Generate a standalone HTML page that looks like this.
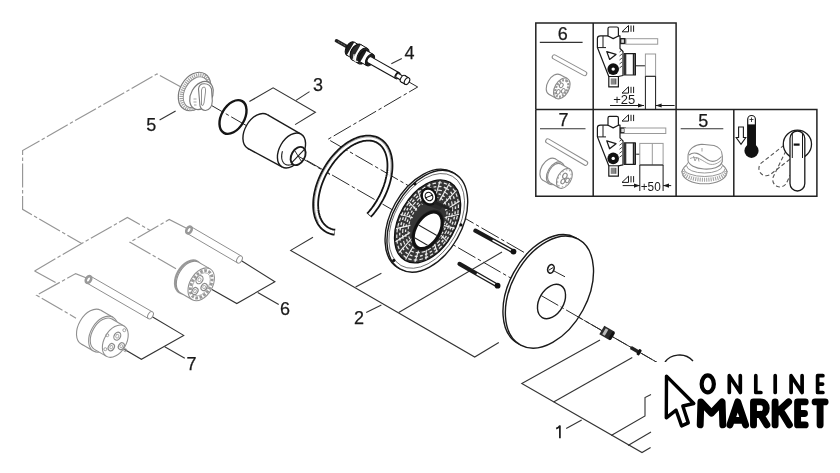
<!DOCTYPE html>
<html><head><meta charset="utf-8"><style>
html,body{margin:0;padding:0;background:#fff;}
body{width:840px;height:473px;overflow:hidden;}
svg{display:block;will-change:transform;}
</style></head><body>
<svg width="840" height="473" viewBox="0 0 840 473">
<rect width="840" height="473" fill="#fff"/>
<path d="M181 87 L157 74 L22.6 150.5 L22.6 209.3 L81.7 243.6" fill="none" stroke="#959595" stroke-width="1.15" stroke-dasharray="24 2.5 3.5 2.5"/>
<path d="M34.6 270.9 L81.7 243.6 L127.4 217.4 L150.2 230.5" fill="none" stroke="#959595" stroke-width="1.15" stroke-dasharray="24 2.5 3.5 2.5"/>
<path d="M34.6 270.9 L57.8 283.7" fill="none" stroke="#959595" stroke-width="1.15" stroke-dasharray="24 2.5 3.5 2.5"/>
<path d="M187 228.5 L169.2 219.4 L130 242.2 L176 268.8" fill="none" stroke="#959595" stroke-width="1.15" stroke-dasharray="24 2.5 3.5 2.5"/>
<path d="M89 279 L75.7 273.6 L36.6 295.2 L76 318.2" fill="none" stroke="#959595" stroke-width="1.15" stroke-dasharray="24 2.5 3.5 2.5"/>
<path d="M206 102.3 L660 364.1" fill="none" stroke="#2a2a2a" stroke-width="1" stroke-dasharray="20 2.8 3.5 2.8"/>
<path d="M409 82 L417.7 87 L328 139.3 L565 276" fill="none" stroke="#2a2a2a" stroke-width="1" stroke-dasharray="20 2.8 3.5 2.8"/>
<path d="M249.4 101.6 L273.1 87.8 L315.4 112.3 L295.1 124.6" fill="none" stroke="#333" stroke-width="1.1"/>
<path d="M296 100.4 L309.5 91.6" fill="none" stroke="#333" stroke-width="1.1"/>
<path d="M313 237.2 L290.7 250.4 L474.7 357 L498.8 342.5" fill="none" stroke="#333" stroke-width="1.1"/>
<path d="M355.6 287.1 L381.4 273.2" fill="none" stroke="#333" stroke-width="1.1"/>
<path d="M398.7 312.5 L502 252" fill="none" stroke="#333" stroke-width="1.1"/>
<path d="M366.2 312.5 L381.4 304.9" fill="none" stroke="#333" stroke-width="1.1"/>
<path d="M600 340 L521.8 383.6 L642 452.5 L650.6 447.5" fill="none" stroke="#333" stroke-width="1.1"/>
<path d="M553.6 401.9 L632.3 357.4" fill="none" stroke="#333" stroke-width="1.1"/>
<path d="M611.2 435.6 L645 416 L645 397.5 L651 394.5" fill="none" stroke="#333" stroke-width="1.1"/>
<path d="M628 445.5 L651 432" fill="none" stroke="#333" stroke-width="1.1"/>
<path d="M566.2 428.6 L581.7 420.1" fill="none" stroke="#333" stroke-width="1.1"/>
<path d="M238.7 259 L274.9 281.8 L236.8 303.5 L212 289.4" fill="none" stroke="#333" stroke-width="1.1"/>
<path d="M257.7 292.5 L278.7 304.6" fill="none" stroke="#333" stroke-width="1.1"/>
<path d="M151 316 L183.7 335.4 L141.4 359.3 L123.4 348.7" fill="none" stroke="#333" stroke-width="1.1"/>
<path d="M164.7 346.8 L184.8 358.2" fill="none" stroke="#333" stroke-width="1.1"/>
<path d="M159.6 120 L175.6 111" fill="none" stroke="#333" stroke-width="1.1"/>
<path d="M391.3 63.8 L401.8 58.5" fill="none" stroke="#333" stroke-width="1.1"/>
<text x="146.35" y="131" font-family="Liberation Sans, sans-serif" font-size="18" fill="#1a1a1a" stroke="#1a1a1a" stroke-width="0.25">5</text>
<text x="312.9" y="90.7" font-family="Liberation Sans, sans-serif" font-size="18" fill="#1a1a1a" stroke="#1a1a1a" stroke-width="0.25">3</text>
<text x="404.6" y="58.95" font-family="Liberation Sans, sans-serif" font-size="18" fill="#1a1a1a" stroke="#1a1a1a" stroke-width="0.25">4</text>
<text x="354.05" y="324" font-family="Liberation Sans, sans-serif" font-size="18" fill="#1a1a1a" stroke="#1a1a1a" stroke-width="0.25">2</text>
<text x="280.05" y="314.75" font-family="Liberation Sans, sans-serif" font-size="18" fill="#1a1a1a" stroke="#1a1a1a" stroke-width="0.25">6</text>
<text x="186.5" y="369.5" font-family="Liberation Sans, sans-serif" font-size="18" fill="#1a1a1a" stroke="#1a1a1a" stroke-width="0.25">7</text>
<path d="M556.2 428.6 Q559 427.5 559.9 425.6 V438.2" fill="none" stroke="#1a1a1a" stroke-width="1.7"/>
<ellipse cx="194.5" cy="91.5" rx="20.5" ry="14.5" transform="rotate(-60 194.5 91.5)" fill="#fff" stroke="#7a7a7a" stroke-width="1.2"/>
<ellipse cx="195.5" cy="92" rx="18.2" ry="12.6" transform="rotate(-60 195.5 92)" fill="none" stroke="#a0a0a0" stroke-width="3.6" stroke-dasharray="1.1 1"/>
<ellipse cx="196" cy="92.3" rx="16.5" ry="11.2" transform="rotate(-60 196 92.3)" fill="none" stroke="#888" stroke-width="0.9"/>
<ellipse cx="201.5" cy="95.5" rx="15" ry="10.5" transform="rotate(-60 201.5 95.5)" fill="#fff" stroke="#7a7a7a" stroke-width="1.2"/>
<path d="M198.5 89 Q199 83.5 204.5 83.8 Q210 84 211.5 89 L212.3 101 Q212 109.5 205.5 110.5 Q201.5 110.5 200 106 Z" fill="#fff" stroke="#7a7a7a" stroke-width="1.1"/>
<path d="M201.5 90 Q202 86.5 204.5 87 Q206 88 205.5 92 L204 103 Q203 107 201.5 105 Z" fill="none" stroke="#888" stroke-width="0.9"/>
<path d="M193.5 99 h3 M193.5 102 h3 M194 105 h2.5" stroke="#999" stroke-width="0.9"/>
<ellipse cx="189" cy="230" rx="3.9" ry="2.42" transform="rotate(-60 189 230)" fill="#fff" stroke="#8f8f8f" stroke-width="1"/>
<path d="M190.95 226.62 L241.45 256.12 L237.55 262.88 L187.05 233.38Z" fill="#fff" stroke="none"/>
<line x1="190.95" y1="226.62" x2="241.45" y2="256.12" stroke="#8f8f8f" stroke-width="1"/>
<line x1="187.05" y1="233.38" x2="237.55" y2="262.88" stroke="#8f8f8f" stroke-width="1"/>
<ellipse cx="239.5" cy="259.5" rx="3.9" ry="2.42" transform="rotate(-60 239.5 259.5)" fill="#fff" stroke="#8f8f8f" stroke-width="1"/>
<ellipse cx="189" cy="230" rx="3.6" ry="2.4" transform="rotate(-60 189 230)" fill="none" stroke="#999" stroke-width="2.6"/>
<ellipse cx="88.5" cy="279.5" rx="3.9" ry="2.42" transform="rotate(-60 88.5 279.5)" fill="#fff" stroke="#8f8f8f" stroke-width="1"/>
<path d="M90.45 276.12 L152.45 311.92 L148.55 318.68 L86.55 282.88Z" fill="#fff" stroke="none"/>
<line x1="90.45" y1="276.12" x2="152.45" y2="311.92" stroke="#8f8f8f" stroke-width="1"/>
<line x1="86.55" y1="282.88" x2="148.55" y2="318.68" stroke="#8f8f8f" stroke-width="1"/>
<ellipse cx="150.5" cy="315.3" rx="3.9" ry="2.42" transform="rotate(-60 150.5 315.3)" fill="#fff" stroke="#8f8f8f" stroke-width="1"/>
<ellipse cx="88.5" cy="279.5" rx="3.6" ry="2.4" transform="rotate(-60 88.5 279.5)" fill="none" stroke="#999" stroke-width="2.6"/>
<ellipse cx="188.21" cy="276.8" rx="17.8" ry="11.3" transform="rotate(-60 188.21 276.8)" fill="#fff" stroke="#999" stroke-width="2.2"/>
<ellipse cx="189.51" cy="277.55" rx="17.8" ry="11.3" transform="rotate(-60 189.51 277.55)" fill="#fff" stroke="#8f8f8f" stroke-width="1.1"/>
<path d="M198.41 262.13 L210.1 268.88 L192.3 299.72 L180.61 292.97Z" fill="#fff" stroke="none"/>
<line x1="198.41" y1="262.13" x2="210.1" y2="268.88" fill="#fff" stroke="#8f8f8f" stroke-width="1.1"/>
<line x1="192.3" y1="299.72" x2="180.61" y2="292.97" fill="#fff" stroke="#8f8f8f" stroke-width="1.1"/>
<ellipse cx="201.2" cy="284.3" rx="17.8" ry="11.3" transform="rotate(-60 201.2 284.3)" fill="#fff" stroke="#8f8f8f" stroke-width="1.1"/>
<ellipse cx="201.2" cy="284.3" rx="14.8" ry="9.2" transform="rotate(-60 201.2 284.3)" fill="none" stroke="#9a9a9a" stroke-width="3" stroke-dasharray="2.6 1.6"/>
<ellipse cx="201.2" cy="284.3" rx="12.6" ry="7.6" transform="rotate(-60 201.2 284.3)" fill="none" stroke="#aaa" stroke-width="0.8"/>
<ellipse cx="199.5" cy="279.7" rx="4.3" ry="3.22" transform="rotate(-60 199.5 279.7)" fill="#fff" stroke="#8a8a8a" stroke-width="1.2"/>
<ellipse cx="199.5" cy="279.7" rx="1.94" ry="1.5" transform="rotate(-60 199.5 279.7)" fill="none" stroke="#aaa" stroke-width="0.9"/>
<ellipse cx="204.1" cy="287" rx="3.7" ry="2.78" transform="rotate(-60 204.1 287)" fill="#fff" stroke="#8a8a8a" stroke-width="1.2"/>
<ellipse cx="204.1" cy="287" rx="1.67" ry="1.29" transform="rotate(-60 204.1 287)" fill="none" stroke="#aaa" stroke-width="0.9"/>
<ellipse cx="195" cy="291.1" rx="3.7" ry="2.78" transform="rotate(-60 195 291.1)" fill="#fff" stroke="#8a8a8a" stroke-width="1.2"/>
<ellipse cx="195" cy="291.1" rx="1.67" ry="1.29" transform="rotate(-60 195 291.1)" fill="none" stroke="#aaa" stroke-width="0.9"/>
<ellipse cx="91.05" cy="327.2" rx="19.5" ry="12.5" transform="rotate(-60 91.05 327.2)" fill="#fff" stroke="#8f8f8f" stroke-width="1.1"/>
<path d="M100.8 310.31 L112.93 317.31 L93.43 351.09 L81.3 344.09Z" fill="#fff" stroke="none"/>
<line x1="100.8" y1="310.31" x2="112.93" y2="317.31" fill="#fff" stroke="#8f8f8f" stroke-width="1.1"/>
<line x1="93.43" y1="351.09" x2="81.3" y2="344.09" fill="#fff" stroke="#8f8f8f" stroke-width="1.1"/>
<ellipse cx="103.18" cy="334.2" rx="19.5" ry="12.5" transform="rotate(-60 103.18 334.2)" fill="#fff" stroke="#8f8f8f" stroke-width="1.1"/>
<ellipse cx="103.18" cy="334.2" rx="17.5" ry="11" transform="rotate(-60 103.18 334.2)" fill="#fff" stroke="#8f8f8f" stroke-width="1.1"/>
<path d="M111.93 319.04 L124.05 326.04 L106.55 356.36 L94.43 349.36Z" fill="#fff" stroke="none"/>
<line x1="111.93" y1="319.04" x2="124.05" y2="326.04" fill="#fff" stroke="#8f8f8f" stroke-width="1.1"/>
<line x1="106.55" y1="356.36" x2="94.43" y2="349.36" fill="#fff" stroke="#8f8f8f" stroke-width="1.1"/>
<ellipse cx="115.3" cy="341.2" rx="17.5" ry="11" transform="rotate(-60 115.3 341.2)" fill="#fff" stroke="#8f8f8f" stroke-width="1.1"/>
<ellipse cx="117.3" cy="336.2" rx="4.2" ry="3.15" transform="rotate(-60 117.3 336.2)" fill="#fff" stroke="#8a8a8a" stroke-width="1.2"/>
<ellipse cx="117.3" cy="336.2" rx="1.89" ry="1.47" transform="rotate(-60 117.3 336.2)" fill="none" stroke="#aaa" stroke-width="0.9"/>
<ellipse cx="111.3" cy="347.2" rx="3.8" ry="2.85" transform="rotate(-60 111.3 347.2)" fill="#fff" stroke="#8a8a8a" stroke-width="1.2"/>
<ellipse cx="111.3" cy="347.2" rx="1.71" ry="1.33" transform="rotate(-60 111.3 347.2)" fill="none" stroke="#aaa" stroke-width="0.9"/>
<ellipse cx="121.3" cy="346.2" rx="3.6" ry="2.7" transform="rotate(-60 121.3 346.2)" fill="#fff" stroke="#8a8a8a" stroke-width="1.2"/>
<ellipse cx="121.3" cy="346.2" rx="1.62" ry="1.26" transform="rotate(-60 121.3 346.2)" fill="none" stroke="#aaa" stroke-width="0.9"/>
<circle cx="107.3" cy="335.2" r="1.5" fill="none" stroke="#999" stroke-width="0.9"/>
<circle cx="124.3" cy="330.2" r="1.5" fill="none" stroke="#999" stroke-width="0.9"/>
<circle cx="105.3" cy="349.2" r="1.5" fill="none" stroke="#999" stroke-width="0.9"/>
<circle cx="125.3" cy="350.2" r="1.5" fill="none" stroke="#999" stroke-width="0.9"/>
<ellipse cx="233" cy="117" rx="18.3" ry="11.5" transform="rotate(-60 233 117)" fill="none" stroke="#151515" stroke-width="2.4"/>
<ellipse cx="257.5" cy="131.5" rx="19.5" ry="12.5" transform="rotate(-60 257.5 131.5)" fill="#fff" stroke="#1a1a1a" stroke-width="1.4"/>
<path d="M267.25 114.61 L301 134.05 L282 166.95 L247.75 148.39Z" fill="#fff" stroke="none"/>
<line x1="267.25" y1="114.61" x2="301" y2="134.05" fill="#fff" stroke="#1a1a1a" stroke-width="1.4"/>
<line x1="282" y1="166.95" x2="247.75" y2="148.39" fill="#fff" stroke="#1a1a1a" stroke-width="1.4"/>
<ellipse cx="291.5" cy="150.5" rx="19" ry="12" transform="rotate(-60 291.5 150.5)" fill="#fff" stroke="#1a1a1a" stroke-width="1.4"/>
<path d="M303.67 148.87 L303.48 149.83 L303.23 150.81 L302.93 151.78 L302.58 152.76 L302.18 153.72 L301.74 154.68 L301.25 155.61 L300.71 156.53 L300.14 157.41 L299.53 158.27 L298.89 159.09 L298.22 159.88 L297.52 160.62 L296.8 161.31 L296.06 161.96 L295.3 162.55 L294.53 163.08 L293.75 163.56 L292.96 163.97 L292.18 164.32 L291.39 164.61 L290.62 164.83 L289.86 164.98 L289.11 165.06 L288.37 165.08 L287.67 165.02 L286.98 164.9 L286.33 164.71 L285.7 164.45 L285.12 164.13 L284.57 163.74 L284.06 163.29 L283.6 162.79 L283.18 162.22 L282.81 161.6 L282.49 160.92 L282.22 160.2 L282 159.44 L281.84 158.63 L281.73 157.79 L281.67 156.91 L281.67 156.01 L281.73 155.08 L281.84 154.14 L282.01 153.17 L282.23 152.2 L282.5 151.23" fill="none" stroke="#1a1a1a" stroke-width="1.1"/>
<ellipse cx="298.1" cy="156" rx="9.8" ry="6.6" transform="rotate(-60 298.1 156)" fill="#fff" stroke="#1a1a1a" stroke-width="1.9"/>
<path d="M291.54 162.85 L304.66 149.15" stroke="#1a1a1a" stroke-width="1.1"/>
<path d="M301.8 162 L294.4 150" stroke="#1a1a1a" stroke-width="0.9"/>
<path d="M298 156 L330 174.5" fill="none" stroke="#2a2a2a" stroke-width="1" stroke-dasharray="20 2.8 3.5 2.8"/>
<line x1="336.5" y1="40.8" x2="352" y2="49.5" stroke="#222" stroke-width="3.6" stroke-linecap="round"/>
<line x1="338" y1="41.6" x2="350" y2="48.4" stroke="#999" stroke-width="0.9" stroke-dasharray="0.8 1"/>
<ellipse cx="350.5" cy="48.7" rx="7.5" ry="4.4" transform="rotate(-60 350.5 48.7)" fill="#1e1e1e" stroke="#111" stroke-width="1"/>
<path d="M354.25 42.2 L359.25 45.1 L351.75 58.1 L346.75 55.2Z" fill="#fff" stroke="none"/>
<line x1="354.25" y1="42.2" x2="359.25" y2="45.1" fill="#1e1e1e" stroke="#111" stroke-width="1"/>
<line x1="351.75" y1="58.1" x2="346.75" y2="55.2" fill="#1e1e1e" stroke="#111" stroke-width="1"/>
<ellipse cx="355.5" cy="51.6" rx="7.5" ry="4.4" transform="rotate(-60 355.5 51.6)" fill="#1e1e1e" stroke="#111" stroke-width="1"/>
<ellipse cx="355.5" cy="51.6" rx="5" ry="2.9" transform="rotate(-60 355.5 51.6)" fill="none" stroke="#999" stroke-width="0.8"/>
<ellipse cx="356.5" cy="52.2" rx="8.8" ry="5.2" transform="rotate(-60 356.5 52.2)" fill="#2a2a2a" stroke="#111" stroke-width="1"/>
<path d="M360.9 44.58 L367.4 48.38 L358.6 63.62 L352.1 59.82Z" fill="#fff" stroke="none"/>
<line x1="360.9" y1="44.58" x2="367.4" y2="48.38" fill="#2a2a2a" stroke="#111" stroke-width="1"/>
<line x1="358.6" y1="63.62" x2="352.1" y2="59.82" fill="#2a2a2a" stroke="#111" stroke-width="1"/>
<ellipse cx="363" cy="56" rx="8.8" ry="5.2" transform="rotate(-60 363 56)" fill="#2a2a2a" stroke="#111" stroke-width="1"/>
<path d="M358.03 61.35 L357.64 61.43 L357.26 61.48 L356.89 61.5 L356.53 61.47 L356.18 61.41 L355.86 61.31 L355.55 61.18 L355.26 61.01 L354.99 60.81 L354.74 60.58 L354.52 60.31 L354.32 60.01 L354.14 59.69 L353.99 59.33 L353.87 58.95 L353.78 58.55 L353.71 58.12 L353.67 57.67 L353.66 57.21 L353.68 56.73 L353.73 56.23 L353.8 55.73 L353.9 55.21 L354.03 54.7 L354.19 54.17" fill="none" stroke="#ddd" stroke-width="1.2"/>
<ellipse cx="363" cy="56" rx="6" ry="3.5" transform="rotate(-60 363 56)" fill="#2a2a2a" stroke="#111" stroke-width="1"/>
<ellipse cx="363" cy="56" rx="3.2" ry="1.9" transform="rotate(-60 363 56)" fill="none" stroke="#888" stroke-width="0.8"/>
<ellipse cx="363.5" cy="56.3" rx="6.5" ry="3.8" transform="rotate(-60 363.5 56.3)" fill="#1e1e1e" stroke="#111" stroke-width="1"/>
<path d="M366.75 50.67 L373.25 54.37 L366.75 65.63 L360.25 61.93Z" fill="#fff" stroke="none"/>
<line x1="366.75" y1="50.67" x2="373.25" y2="54.37" fill="#1e1e1e" stroke="#111" stroke-width="1"/>
<line x1="366.75" y1="65.63" x2="360.25" y2="61.93" fill="#1e1e1e" stroke="#111" stroke-width="1"/>
<ellipse cx="370" cy="60" rx="6.5" ry="3.8" transform="rotate(-60 370 60)" fill="#1e1e1e" stroke="#111" stroke-width="1"/>
<ellipse cx="369.5" cy="59.8" rx="3.4" ry="2.1" transform="rotate(-60 369.5 59.8)" fill="#fff" stroke="#111" stroke-width="1.1"/>
<path d="M371.2 56.86 L399.2 72.66 L395.8 78.54 L367.8 62.74Z" fill="#fff" stroke="none"/>
<line x1="371.2" y1="56.86" x2="399.2" y2="72.66" fill="#fff" stroke="#111" stroke-width="1.1"/>
<line x1="395.8" y1="78.54" x2="367.8" y2="62.74" fill="#fff" stroke="#111" stroke-width="1.1"/>
<ellipse cx="397.5" cy="75.6" rx="3.4" ry="2.1" transform="rotate(-60 397.5 75.6)" fill="#fff" stroke="#111" stroke-width="1.1"/>
<ellipse cx="397.5" cy="75.6" rx="2.3" ry="1.4" transform="rotate(-60 397.5 75.6)" fill="#fff" stroke="#111" stroke-width="1.1"/>
<path d="M398.65 73.61 L404.15 76.81 L401.85 80.79 L396.35 77.59Z" fill="#fff" stroke="none"/>
<line x1="398.65" y1="73.61" x2="404.15" y2="76.81" fill="#fff" stroke="#111" stroke-width="1.1"/>
<line x1="401.85" y1="80.79" x2="396.35" y2="77.59" fill="#fff" stroke="#111" stroke-width="1.1"/>
<ellipse cx="403" cy="78.8" rx="2.3" ry="1.4" transform="rotate(-60 403 78.8)" fill="#fff" stroke="#111" stroke-width="1.1"/>
<ellipse cx="403" cy="78.8" rx="3.7" ry="2.3" transform="rotate(-60 403 78.8)" fill="#fff" stroke="#111" stroke-width="1.1"/>
<path d="M404.85 75.6 L408.85 77.9 L405.15 84.3 L401.15 82Z" fill="#fff" stroke="none"/>
<line x1="404.85" y1="75.6" x2="408.85" y2="77.9" fill="#fff" stroke="#111" stroke-width="1.1"/>
<line x1="405.15" y1="84.3" x2="401.15" y2="82" fill="#fff" stroke="#111" stroke-width="1.1"/>
<ellipse cx="407" cy="81.1" rx="3.7" ry="2.3" transform="rotate(-60 407 81.1)" fill="#fff" stroke="#111" stroke-width="1.1"/>
<path d="M334.92 232.21 L333.7 232.04 L332.5 231.81 L331.33 231.51 L330.19 231.14 L329.08 230.71 L328.01 230.2 L326.97 229.64 L325.97 229.01 L325.01 228.31 L324.09 227.56 L323.22 226.74 L322.38 225.86 L321.59 224.92 L320.84 223.93 L320.14 222.88 L319.49 221.77 L318.89 220.61 L318.33 219.4 L317.83 218.14 L317.38 216.84 L316.97 215.48 L316.62 214.09 L316.33 212.65 L316.08 211.17 L315.89 209.65 L315.75 208.1 L315.67 206.51 L315.64 204.9 L315.66 203.25 L315.74 201.58 L315.87 199.89 L316.05 198.17 L316.29 196.44 L316.58 194.68 L316.92 192.92 L317.32 191.14 L317.76 189.36 L318.26 187.57 L318.81 185.77 L319.41 183.98 L320.05 182.19 L320.74 180.4 L321.48 178.62 L322.27 176.84 L323.1 175.08 L323.97 173.34 L324.88 171.61 L325.84 169.9 L326.83 168.21 L327.86 166.55 L328.93 164.92 L330.03 163.31 L331.17 161.74 L332.33 160.2 L333.53 158.7 L334.75 157.23 L336 155.81 L337.28 154.42 L338.58 153.09 L339.89 151.8 L341.23 150.55 L342.58 149.36 L343.95 148.22 L345.33 147.14 L346.72 146.11 L348.12 145.13 L349.53 144.22 L350.94 143.36 L352.36 142.56 L353.77 141.83 L355.19 141.16 L356.6 140.55 L358 140.01 L359.4 139.53 L360.79 139.12 L362.16 138.78 L363.53 138.5 L364.87 138.29 L366.2 138.15 L367.51 138.08 L368.8 138.07 L370.07 138.14 L371.31 138.27 L372.52 138.47 L373.71 138.74 L374.86 139.07 L375.98 139.47 L377.07 139.94 L378.13 140.48 L379.14 141.08 L380.12 141.74 L381.06 142.47 L381.96 143.25 L382.82 144.1 L383.63 145.01 L384.4 145.98 L385.12 147 L385.8 148.08 L386.42 149.21 L387 150.4 L387.53 151.64 L388.01 152.92 L388.44 154.25 L388.81 155.63 L389.14 157.05 L389.41 158.51 L389.62 160 L389.79 161.54 L389.9 163.11 L389.96 164.71 L389.96 166.34 L389.91 168 L389.8 169.68 L389.65 171.39 L389.43 173.12 L389.17 174.86 L388.85 176.62 L388.48 178.39 L388.06 180.17 L387.59 181.96 L387.06 183.75 L386.49 185.55 L385.87 187.34 L385.2 189.13 L384.48 190.92 L383.72 192.69 L382.91 194.46 L382.06 196.21 L381.17 197.95 L380.23 199.67 L379.26 201.37 L378.24 203.04 L377.19 204.69 L376.11 206.31 L374.99 207.9 L373.84 209.46 L372.66 210.98 L371.45 212.46 L370.21 213.9 L368.95 215.31" fill="none" stroke="#151515" stroke-width="6.8" stroke-linecap="butt"/>
<path d="M334.47 232.16 L333.26 231.97 L332.08 231.71 L330.92 231.39 L329.8 231 L328.71 230.54 L327.66 230.02 L326.64 229.44 L325.66 228.79 L324.71 228.08 L323.81 227.31 L322.95 226.47 L322.14 225.58 L321.36 224.63 L320.63 223.63 L319.95 222.57 L319.32 221.45 L318.73 220.28 L318.19 219.07 L317.7 217.8 L317.27 216.49 L316.88 215.13 L316.54 213.73 L316.26 212.29 L316.03 210.81 L315.85 209.29 L315.73 207.74 L315.65 206.15 L315.64 204.54 L315.67 202.9 L315.76 201.23 L315.9 199.54 L316.09 197.83 L316.34 196.1 L316.64 194.35 L316.99 192.6 L317.39 190.83 L317.85 189.05 L318.35 187.27 L318.9 185.48 L319.5 183.7 L320.15 181.91 L320.85 180.14 L321.59 178.36 L322.38 176.6 L323.21 174.85 L324.08 173.12 L325 171.4 L325.95 169.7 L326.94 168.03 L327.97 166.38 L329.04 164.76 L330.14 163.16 L331.27 161.6 L332.43 160.07 L333.62 158.58 L334.84 157.12 L336.09 155.71 L337.36 154.34 L338.65 153.01 L339.96 151.73 L341.29 150.5 L342.64 149.31 L344 148.18 L345.37 147.1 L346.76 146.08 L348.15 145.11 L349.55 144.2 L350.96 143.35 L352.36 142.56 L353.77 141.83 L355.18 141.16 L356.58 140.56 L357.98 140.02 L359.37 139.54 L360.75 139.13 L362.12 138.78 L363.48 138.51 L364.82 138.3 L366.14 138.15 L367.44 138.08 L368.73 138.07 L369.99 138.13 L371.22 138.26 L372.43 138.45 L373.61 138.71 L374.77 139.04 L375.89 139.44 L376.97 139.9 L378.02 140.42 L379.04 141.01 L380.02 141.66 L380.96 142.38 L381.86 143.16 L382.71 143.99 L383.53 144.89 L384.3 145.84 L385.02 146.85 L385.7 147.92 L386.33 149.04 L386.91 150.21 L387.45 151.43 L387.93 152.7 L388.37 154.02 L388.75 155.38 L389.08 156.78 L389.36 158.23 L389.59 159.71 L389.76 161.23 L389.88 162.79 L389.95 164.37 L389.96 165.99 L389.92 167.63 L389.83 169.3 L389.69 170.99 L389.49 172.71 L389.24 174.44 L388.93 176.18 L388.58 177.94 L388.17 179.71 L387.72 181.49 L387.21 183.27 L386.65 185.06 L386.05 186.84 L385.39 188.63 L384.69 190.4 L383.95 192.17 L383.16 193.93 L382.32 195.68 L381.45 197.42 L380.53 199.13 L379.57 200.83 L378.58 202.5 L377.55 204.15 L376.48 205.77 L375.38 207.36 L374.24 208.92 L373.08 210.45 L371.88 211.94 L370.66 213.39 L369.41 214.8" fill="none" stroke="#fff" stroke-width="3.2"/>
<path d="M318.55 222.5 L317.91 221.29 L317.33 220.03 L316.8 218.72 L316.32 217.36 L315.89 215.95 L315.52 214.5 L315.21 213.01 L314.95 211.47 L314.74 209.89 L314.6 208.28 L314.5 206.63 L314.47 204.96 L314.49 203.25 L314.57 201.51 L314.7 199.76 L314.89 197.98 L315.14 196.18 L315.44 194.36 L315.8 192.54 L316.21 190.7 L316.67 188.85 L317.19 187 L317.76 185.15 L318.38 183.29 L319.06 181.44 L319.78 179.59 L320.55 177.75 L321.37 175.93 L322.24 174.11 L323.15 172.32 L324.1 170.54 L325.1 168.78 L326.14 167.05 L327.21 165.34 L328.33 163.67 L329.48 162.02 L330.66 160.41 L331.88 158.84 L333.13 157.31 L334.41 155.81 L335.71 154.36 L337.04 152.96 L338.39 151.6 L339.77 150.29 L341.16 149.03 L342.57 147.83 L344 146.68 L345.44 145.59 L346.89 144.56 L348.34 143.59 L349.81 142.67 L351.28 141.83 L352.75 141.04 L354.22 140.32 L355.69 139.67 L357.15 139.08 L358.61 138.56 L360.06 138.11 L361.5 137.73 L362.93 137.42 L364.34 137.18 L365.74 137.01 L367.11 136.91 L368.47 136.89 L369.8 136.93 L371.1 137.05 L372.38 137.23 L373.63 137.49 L374.85 137.82 L376.04 138.21 L377.19 138.68 L378.31 139.22 L379.39 139.82 L380.43 140.49 L381.43 141.22 L382.39 142.02 L383.3 142.89 L384.17 143.81 L384.99 144.8 L385.77 145.85 L386.49 146.95 L387.17 148.12 L387.8 149.33 L388.37 150.6 L388.89 151.92 L389.36 153.29 L389.78 154.71 L390.14 156.17 L390.44 157.67 L390.69 159.22 L390.89 160.8 L391.02 162.42 L391.11 164.07 L391.13 165.75 L391.1 167.47 L391.01 169.2 L390.87 170.97 L390.67 172.75 L390.41 174.55 L390.1 176.37" fill="none" stroke="#555" stroke-width="0.6"/>
<ellipse cx="425.42" cy="220.15" rx="55" ry="34.5" transform="rotate(-60.7 425.42 220.15)" fill="#fff" stroke="#1a1a1a" stroke-width="1.4"/>
<ellipse cx="427.33" cy="221.25" rx="55" ry="34.5" transform="rotate(-60.7 427.33 221.25)" fill="#fff" stroke="#1a1a1a" stroke-width="1.4"/>
<ellipse cx="427.59" cy="221.4" rx="45" ry="28" transform="rotate(-60 427.59 221.4)" fill="#363636" stroke="#111" stroke-width="1.3"/>
<ellipse cx="426.72" cy="220.9" rx="51.5" ry="32" transform="rotate(-60 426.72 220.9)" fill="none" stroke="#444" stroke-width="0.7"/>
<ellipse cx="427.59" cy="221.4" rx="42" ry="26.04" transform="rotate(-60 427.59 221.4)" fill="none" stroke="#e6e6e6" stroke-width="1.2" stroke-dasharray="3.5 2.2"/>
<ellipse cx="427.59" cy="221.4" rx="38" ry="23.56" transform="rotate(-60 427.59 221.4)" fill="none" stroke="#e6e6e6" stroke-width="1.4" stroke-dasharray="2.8 2.4"/>
<ellipse cx="427.59" cy="221.4" rx="34" ry="21.08" transform="rotate(-60 427.59 221.4)" fill="none" stroke="#e6e6e6" stroke-width="1.2" stroke-dasharray="4 2"/>
<ellipse cx="427.59" cy="221.4" rx="30" ry="18.6" transform="rotate(-60 427.59 221.4)" fill="none" stroke="#e6e6e6" stroke-width="1.3" stroke-dasharray="2.5 2.5"/>
<ellipse cx="427.59" cy="221.4" rx="26.5" ry="16.43" transform="rotate(-60 427.59 221.4)" fill="none" stroke="#e6e6e6" stroke-width="1.1" stroke-dasharray="3 2"/>
<line x1="449.59" y1="183.29" x2="439.59" y2="200.62" stroke="#f0f0f0" stroke-width="1.1"/>
<line x1="456.35" y1="190.26" x2="443.28" y2="204.42" stroke="#f0f0f0" stroke-width="1.1"/>
<line x1="459.64" y1="200.98" x2="445.08" y2="210.27" stroke="#f0f0f0" stroke-width="1.1"/>
<line x1="459.06" y1="214.17" x2="444.76" y2="217.46" stroke="#f0f0f0" stroke-width="1.1"/>
<line x1="454.69" y1="228.23" x2="442.38" y2="225.13" stroke="#f0f0f0" stroke-width="1.1"/>
<line x1="447.05" y1="241.46" x2="438.21" y2="232.35" stroke="#f0f0f0" stroke-width="1.1"/>
<line x1="437.06" y1="252.27" x2="432.76" y2="238.24" stroke="#f0f0f0" stroke-width="1.1"/>
<line x1="425.93" y1="259.36" x2="426.69" y2="242.11" stroke="#f0f0f0" stroke-width="1.1"/>
<line x1="415" y1="261.88" x2="420.73" y2="243.48" stroke="#f0f0f0" stroke-width="1.1"/>
<line x1="405.59" y1="259.51" x2="415.59" y2="242.18" stroke="#f0f0f0" stroke-width="1.1"/>
<line x1="398.83" y1="252.54" x2="411.9" y2="238.38" stroke="#f0f0f0" stroke-width="1.1"/>
<line x1="395.54" y1="241.82" x2="410.1" y2="232.53" stroke="#f0f0f0" stroke-width="1.1"/>
<line x1="396.11" y1="228.63" x2="410.41" y2="225.34" stroke="#f0f0f0" stroke-width="1.1"/>
<line x1="400.49" y1="214.57" x2="412.8" y2="217.67" stroke="#f0f0f0" stroke-width="1.1"/>
<line x1="408.13" y1="201.34" x2="416.97" y2="210.45" stroke="#f0f0f0" stroke-width="1.1"/>
<line x1="418.11" y1="190.53" x2="422.41" y2="204.56" stroke="#f0f0f0" stroke-width="1.1"/>
<line x1="429.25" y1="183.44" x2="428.49" y2="200.69" stroke="#f0f0f0" stroke-width="1.1"/>
<line x1="440.18" y1="180.92" x2="434.45" y2="199.32" stroke="#f0f0f0" stroke-width="1.1"/>
<ellipse cx="427.7" cy="230.3" rx="22.5" ry="13.8" transform="rotate(-60 427.7 230.3)" fill="#222" stroke="none"/>
<ellipse cx="427.7" cy="230.3" rx="19.8" ry="11.9" transform="rotate(-60 427.7 230.3)" fill="#fff" stroke="#111" stroke-width="2.8"/>
<clipPath id="hole2"><ellipse cx="427.7" cy="230.3" rx="18.3" ry="10.5" transform="rotate(-60 427.7 230.3)"/></clipPath>
<g clip-path="url(#hole2)"><path d="M400 214.2 L460 248.8" fill="none" stroke="#222" stroke-width="1.1"/><path d="M400 229.4 L460 264" fill="none" stroke="#222" stroke-width="1.1"/></g>
<path d="M420 203 L440 210 L444 205 L424 196Z" fill="#2a2a2a"/>
<ellipse cx="429" cy="196.5" rx="7" ry="8.3" transform="rotate(-30 429 196.5)" fill="#fff" stroke="#111" stroke-width="2.4"/>
<ellipse cx="429" cy="196.5" rx="3.6" ry="4.4" transform="rotate(-30 429 196.5)" fill="#fff" stroke="#111" stroke-width="1.2"/>
<line x1="425.4" y1="197.9" x2="432.6" y2="195.1" stroke="#111" stroke-width="1"/>
<line x1="434" y1="202" x2="452" y2="210" stroke="#222" stroke-width="3"/>
<circle cx="460.95" cy="224.97" r="1.6" fill="#111"/>
<circle cx="393.8" cy="260.45" r="1.6" fill="#111"/>
<circle cx="414.93" cy="183.78" r="1.6" fill="#111"/>
<line x1="475.4" y1="230.7" x2="513.5" y2="251.6" stroke="#1a1a1a" stroke-width="4.2" stroke-linecap="round"/>
<line x1="492.54" y1="240.1" x2="511.21" y2="250.35" stroke="#fff" stroke-width="1.6"/>
<circle cx="513.5" cy="251.6" r="2.9" fill="#111"/>
<line x1="459.5" y1="263.9" x2="497.6" y2="285.7" stroke="#1a1a1a" stroke-width="4.2" stroke-linecap="round"/>
<line x1="476.64" y1="273.71" x2="495.31" y2="284.39" stroke="#fff" stroke-width="1.6"/>
<circle cx="497.6" cy="285.7" r="2.9" fill="#111"/>
<ellipse cx="547.03" cy="290.75" rx="60.3" ry="38" transform="rotate(-61.5 547.03 290.75)" fill="#fff" stroke="#1a1a1a" stroke-width="1.4"/>
<ellipse cx="549.45" cy="292.15" rx="60.3" ry="38" transform="rotate(-61.5 549.45 292.15)" fill="#fff" stroke="#1a1a1a" stroke-width="1.4"/>
<ellipse cx="551.5" cy="301.5" rx="18.5" ry="12.2" transform="rotate(-60 551.5 301.5)" fill="#fff" stroke="#1a1a1a" stroke-width="1.4"/>
<ellipse cx="550.9" cy="268.9" rx="4.4" ry="3.1" transform="rotate(-70 550.9 268.9)" fill="#fff" stroke="#1a1a1a" stroke-width="1.6"/>
<line x1="548.6" y1="270.3" x2="553.2" y2="267.5" stroke="#1a1a1a" stroke-width="1"/>
<path d="M540.9 295.4 L660 364.1" fill="none" stroke="#2a2a2a" stroke-width="1" stroke-dasharray="20 2.8 3.5 2.8"/>
<path d="M554 271 L565 276.8" fill="none" stroke="#2a2a2a" stroke-width="1" stroke-dasharray="20 2.8 3.5 2.8"/>
<g transform="translate(607,333) rotate(30)"><rect x="-6" y="-5" width="12" height="10" fill="#2a2a2a"/><rect x="-3.5" y="-3.5" width="3" height="7" fill="#bbb"/><rect x="4" y="-4.5" width="3" height="9" rx="1.2" fill="#111"/></g>
<g transform="translate(636,350.5) rotate(30)"><rect x="-6" y="-1.8" width="9" height="3.6" fill="#222"/><rect x="2" y="-3.2" width="3.2" height="6.4" rx="1.2" fill="#111"/></g>
<path d="M665 362 C670 355 684 351 693 361" fill="none" stroke="#1a1a1a" stroke-width="1.4"/>
<path d="M535.8 109.6 L535.8 23.1 L676.1 23.1 L676.1 109.6" fill="none" stroke="#222" stroke-width="1.5"/>
<path d="M535.8 109.6 L816.9 109.6 L816.9 196.3 L535.8 196.3 L535.8 109.6" fill="none" stroke="#222" stroke-width="1.5"/>
<line x1="593.2" y1="23.1" x2="593.2" y2="196.3" fill="none" stroke="#222" stroke-width="1.5"/>
<line x1="676.1" y1="109.6" x2="676.1" y2="196.3" fill="none" stroke="#222" stroke-width="1.5"/>
<line x1="733.8" y1="109.6" x2="733.8" y2="196.3" fill="none" stroke="#222" stroke-width="1.5"/>
<text x="557.75" y="40.05" font-family="Liberation Sans, sans-serif" font-size="18" fill="#1a1a1a" stroke="#1a1a1a" stroke-width="0.25">6</text>
<text x="558.45" y="126.4" font-family="Liberation Sans, sans-serif" font-size="18" fill="#1a1a1a" stroke="#1a1a1a" stroke-width="0.25">7</text>
<text x="698.2" y="126.95" font-family="Liberation Sans, sans-serif" font-size="18" fill="#1a1a1a" stroke="#1a1a1a" stroke-width="0.25">5</text>
<line x1="539.8" y1="42.4" x2="582.6" y2="42.4" stroke="#333" stroke-width="1.1"/>
<line x1="540" y1="128.8" x2="585.5" y2="128.8" stroke="#333" stroke-width="1.1"/>
<line x1="680.7" y1="128.8" x2="723.3" y2="128.8" stroke="#333" stroke-width="1.1"/>
<line x1="554.4" y1="57" x2="584.6" y2="73.5" stroke="#8e8e8e" stroke-width="5.4" stroke-linecap="round"/>
<line x1="554.4" y1="57" x2="584.6" y2="73.5" stroke="#fff" stroke-width="3.2" stroke-linecap="round"/>
<line x1="547.8" y1="141" x2="585.5" y2="163.2" stroke="#8e8e8e" stroke-width="5.4" stroke-linecap="round"/>
<line x1="547.8" y1="141" x2="585.5" y2="163.2" stroke="#fff" stroke-width="3.2" stroke-linecap="round"/>
<ellipse cx="554.5" cy="84.5" rx="11.3" ry="7" transform="rotate(-60 554.5 84.5)" fill="#fff" stroke="#8a8a8a" stroke-width="1.1"/>
<path d="M560.15 74.71 L567.45 78.61 L556.15 98.19 L548.85 94.29Z" fill="#fff" stroke="none"/>
<line x1="560.15" y1="74.71" x2="567.45" y2="78.61" fill="#fff" stroke="#8a8a8a" stroke-width="1.1"/>
<line x1="556.15" y1="98.19" x2="548.85" y2="94.29" fill="#fff" stroke="#8a8a8a" stroke-width="1.1"/>
<ellipse cx="561.8" cy="88.4" rx="11.3" ry="7" transform="rotate(-60 561.8 88.4)" fill="#fff" stroke="#8a8a8a" stroke-width="1.1"/>
<ellipse cx="561.8" cy="88.4" rx="9" ry="5.6" transform="rotate(-60 561.8 88.4)" fill="none" stroke="#999" stroke-width="2.4" stroke-dasharray="2 1.2"/>
<ellipse cx="561.3" cy="85.4" rx="2.4" ry="1.7" transform="rotate(-60 561.3 85.4)" fill="#fff" stroke="#888" stroke-width="1"/>
<ellipse cx="563.3" cy="90.9" rx="2.4" ry="1.7" transform="rotate(-60 563.3 90.9)" fill="#fff" stroke="#888" stroke-width="1"/>
<ellipse cx="558.3" cy="91.9" rx="2.4" ry="1.7" transform="rotate(-60 558.3 91.9)" fill="#fff" stroke="#888" stroke-width="1"/>
<ellipse cx="549" cy="169.5" rx="12.3" ry="7.8" transform="rotate(-60 549 169.5)" fill="#fff" stroke="#8a8a8a" stroke-width="1.1"/>
<path d="M555.15 158.85 L561.65 162.65 L549.35 183.95 L542.85 180.15Z" fill="#fff" stroke="none"/>
<line x1="555.15" y1="158.85" x2="561.65" y2="162.65" fill="#fff" stroke="#8a8a8a" stroke-width="1.1"/>
<line x1="549.35" y1="183.95" x2="542.85" y2="180.15" fill="#fff" stroke="#8a8a8a" stroke-width="1.1"/>
<ellipse cx="555.5" cy="173.3" rx="12.3" ry="7.8" transform="rotate(-60 555.5 173.3)" fill="#fff" stroke="#8a8a8a" stroke-width="1.1"/>
<ellipse cx="555.5" cy="173.3" rx="10.8" ry="6.7" transform="rotate(-60 555.5 173.3)" fill="#fff" stroke="#8a8a8a" stroke-width="1.1"/>
<path d="M560.9 163.95 L569.8 169.05 L559 187.75 L550.1 182.65Z" fill="#fff" stroke="none"/>
<line x1="560.9" y1="163.95" x2="569.8" y2="169.05" fill="#fff" stroke="#8a8a8a" stroke-width="1.1"/>
<line x1="559" y1="187.75" x2="550.1" y2="182.65" fill="#fff" stroke="#8a8a8a" stroke-width="1.1"/>
<ellipse cx="564.4" cy="178.4" rx="10.8" ry="6.7" transform="rotate(-60 564.4 178.4)" fill="#fff" stroke="#8a8a8a" stroke-width="1.1"/>
<ellipse cx="564.9" cy="175.9" rx="2.8" ry="2.02" transform="rotate(-60 564.9 175.9)" fill="#fff" stroke="#888" stroke-width="1.1"/>
<ellipse cx="562.9" cy="181.4" rx="2.5" ry="1.8" transform="rotate(-60 562.9 181.4)" fill="#fff" stroke="#888" stroke-width="1.1"/>
<ellipse cx="567.4" cy="180.4" rx="2.4" ry="1.73" transform="rotate(-60 567.4 180.4)" fill="#fff" stroke="#888" stroke-width="1.1"/>
<ellipse cx="564.4" cy="178.4" rx="9.3" ry="5.7" transform="rotate(-60 564.4 178.4)" fill="none" stroke="#aaa" stroke-width="1.2" stroke-dasharray="1.5 2.5"/>
<ellipse cx="704.5" cy="172.2" rx="22.4" ry="11.6" fill="#fff" stroke="#8a8a8a" stroke-width="1.1"/>
<path d="M683 171 A21.5 8.8 0 0 0 726 171" fill="none" stroke="#a5a5a5" stroke-width="4" stroke-dasharray="1.1 1.1"/>
<path d="M684 168.5 A20.5 8 0 0 0 725 168.5" fill="none" stroke="#8a8a8a" stroke-width="0.9"/>
<ellipse cx="704.5" cy="165.5" rx="18" ry="7.5" fill="#fff" stroke="#999" stroke-width="1"/>
<path d="M688 156.5 C688 149 695 144.5 702 144.3 L714 145.5 C719 146.8 722.3 151 722.3 156 L722.3 161.5 C720.5 167.5 712 169.5 704 169 C695.5 168.3 688.5 165 688 160.5 Z" fill="#fff" stroke="#8a8a8a" stroke-width="1.1"/>
<path d="M689 155 C696 149.5 702 156.5 708 160 C713 162.8 718 160.5 721.5 156.5" fill="none" stroke="#8a8a8a" stroke-width="1.1"/>
<path d="M690 158.5 C697 155 703 161.5 709 164 C714 165.5 718.5 163 721.5 160" fill="none" stroke="#999" stroke-width="0.9"/>
<path d="M693.5 156 L695 161 L697 157 M698 157.5 L699 161.5" fill="none" stroke="#999" stroke-width="0.9"/>
<path d="M702 148 V151.5" stroke="#999" stroke-width="0.9"/>
<g transform="translate(0 0)">
<path d="M600.5 35.8 H620 V48.5 L623 51.5 V75.5 L618.4 76.5 V86.9 H608.8 V76.5 L597.4 47.5 V38.5 Q597.4 35.8 600.5 35.8Z" fill="#fff" stroke="#1a1a1a" stroke-width="1.2" stroke-linejoin="round"/>
<path d="M603 36 V47.6 M597.6 47.6 H606 M608.8 76.5 H618.4" fill="none" stroke="#1a1a1a" stroke-width="1"/>
<path d="M608 36 V28.6 Q608 27 609.6 27 H616.8 Q618.4 27 618.4 28.6 V36 L613.2 38.6 Z" fill="#fff" stroke="#1a1a1a" stroke-width="1.2" stroke-linejoin="round"/>
<rect x="620" y="38" width="5.8" height="6.2" fill="#222"/><rect x="621.3" y="39.4" width="2.6" height="3.4" fill="#ddd"/>
<path d="M619.5 52 L622 50 M619.5 56 L622 54 M619.5 60 L622 58 M619.5 64 L622 62 M619.5 68 L622 66" stroke="#333" stroke-width="0.9"/>
<rect x="624.3" y="53.6" width="11.1" height="21.4" fill="#fff" stroke="#1a1a1a" stroke-width="1.2" stroke-linejoin="round"/>
<rect x="624.3" y="53.6" width="2" height="21.4" fill="#333"/>
<rect x="632.8" y="53.6" width="1.8" height="21.4" fill="#222"/>
<path d="M606.8 51.6 L616 54.4 L609.6 59.4 Z" fill="#fff" stroke="#1a1a1a" stroke-width="1.3" stroke-linejoin="round"/>
<circle cx="613.2" cy="69.1" r="5.8" fill="#111"/><circle cx="613.2" cy="69.1" r="1.7" fill="#fff"/>
<rect x="610.8" y="78.5" width="5.6" height="6" fill="#666"/>
<path d="M612 78.5 V84.5 M614 78.5 V84.5" stroke="#ccc" stroke-width="0.7"/>
<path d="M622 31.8 L628.5 25.5 V31.8 Z" fill="none" stroke="#1a1a1a" stroke-width="1"/>
<path d="M631 25.5 V31.8 M633.6 25.5 V31.8" stroke="#1a1a1a" stroke-width="1"/>
<path d="M622 93.1 L628.5 86.8 V93.1 Z" fill="none" stroke="#1a1a1a" stroke-width="1"/>
<path d="M631 86.8 V93.1 M633.6 86.8 V93.1" stroke="#1a1a1a" stroke-width="1"/>
</g>
<rect x="626" y="38.7" width="31.7" height="5.5" fill="#fff" stroke="#999" stroke-width="1"/>
<line x1="635.5" y1="65.8" x2="645.4" y2="65.8" stroke="#1a1a1a" stroke-width="1"/>
<rect x="645.4" y="54" width="10.2" height="22.3" fill="#fff" stroke="#999" stroke-width="1"/>
<path d="M645.4 109 L645.4 76.3 L655.6 76.3 L655.6 109" fill="none" stroke="#1a1a1a" stroke-width="1"/>
<line x1="610" y1="105.5" x2="644" y2="105.5" stroke="#1a1a1a" stroke-width="1"/>
<path d="M644 105.5 L638 103.4 L638 107.6Z" fill="#1a1a1a"/>
<line x1="655.6" y1="105.5" x2="674.6" y2="105.5" stroke="#1a1a1a" stroke-width="1"/>
<path d="M655.6 105.5 L661.6 103.4 L661.6 107.6Z" fill="#1a1a1a"/>
<text x="613.3" y="103.8" font-family="Liberation Sans, sans-serif" font-size="12" textLength="22" lengthAdjust="spacingAndGlyphs" fill="#1a1a1a">+25</text>
<g transform="translate(0 89.3)">
<path d="M600.5 35.8 H620 V48.5 L623 51.5 V75.5 L618.4 76.5 V86.9 H608.8 V76.5 L597.4 47.5 V38.5 Q597.4 35.8 600.5 35.8Z" fill="#fff" stroke="#1a1a1a" stroke-width="1.2" stroke-linejoin="round"/>
<path d="M603 36 V47.6 M597.6 47.6 H606 M608.8 76.5 H618.4" fill="none" stroke="#1a1a1a" stroke-width="1"/>
<path d="M608 36 V28.6 Q608 27 609.6 27 H616.8 Q618.4 27 618.4 28.6 V36 L613.2 38.6 Z" fill="#fff" stroke="#1a1a1a" stroke-width="1.2" stroke-linejoin="round"/>
<rect x="620" y="38" width="5.8" height="6.2" fill="#222"/><rect x="621.3" y="39.4" width="2.6" height="3.4" fill="#ddd"/>
<path d="M619.5 52 L622 50 M619.5 56 L622 54 M619.5 60 L622 58 M619.5 64 L622 62 M619.5 68 L622 66" stroke="#333" stroke-width="0.9"/>
<rect x="624.3" y="53.6" width="11.1" height="21.4" fill="#fff" stroke="#1a1a1a" stroke-width="1.2" stroke-linejoin="round"/>
<rect x="624.3" y="53.6" width="2" height="21.4" fill="#333"/>
<rect x="632.8" y="53.6" width="1.8" height="21.4" fill="#222"/>
<path d="M606.8 51.6 L616 54.4 L609.6 59.4 Z" fill="#fff" stroke="#1a1a1a" stroke-width="1.3" stroke-linejoin="round"/>
<circle cx="613.2" cy="69.1" r="5.8" fill="#111"/><circle cx="613.2" cy="69.1" r="1.7" fill="#fff"/>
<rect x="610.8" y="78.5" width="5.6" height="6" fill="#666"/>
<path d="M612 78.5 V84.5 M614 78.5 V84.5" stroke="#ccc" stroke-width="0.7"/>
<path d="M622 31.8 L628.5 25.5 V31.8 Z" fill="none" stroke="#1a1a1a" stroke-width="1"/>
<path d="M631 25.5 V31.8 M633.6 25.5 V31.8" stroke="#1a1a1a" stroke-width="1"/>
<path d="M622 93.1 L628.5 86.8 V93.1 Z" fill="none" stroke="#1a1a1a" stroke-width="1"/>
<path d="M631 86.8 V93.1 M633.6 86.8 V93.1" stroke="#1a1a1a" stroke-width="1"/>
</g>
<rect x="624.5" y="128" width="41.3" height="5.5" fill="#fff" stroke="#999" stroke-width="1"/>
<line x1="636.2" y1="154.2" x2="639.8" y2="154.2" stroke="#1a1a1a" stroke-width="1"/>
<rect x="639.8" y="143.4" width="23.3" height="21.6" fill="#fff" stroke="#999" stroke-width="1"/>
<line x1="652.3" y1="143.4" x2="652.3" y2="165" stroke="#999" stroke-width="1"/>
<path d="M639.8 191 L639.8 165 L663.1 165 L663.1 191" fill="none" stroke="#1a1a1a" stroke-width="1"/>
<line x1="622.7" y1="185.6" x2="639.8" y2="185.6" stroke="#1a1a1a" stroke-width="1"/>
<path d="M639.8 185.6 L634 183.5 L634 187.7Z" fill="#1a1a1a"/>
<line x1="663.1" y1="185.6" x2="671.2" y2="185.6" stroke="#1a1a1a" stroke-width="1"/>
<path d="M663.1 185.6 L669 183.5 L669 187.7Z" fill="#1a1a1a"/>
<text x="640.7" y="191" font-family="Liberation Sans, sans-serif" font-size="12" textLength="20" lengthAdjust="spacingAndGlyphs" fill="#1a1a1a">+50</text>
<rect x="747.7" y="115.5" width="7.7" height="34" rx="3.85" fill="#fff" stroke="#1a1a1a" stroke-width="1.2"/>
<rect x="747.7" y="124.4" width="7.7" height="26" fill="#111"/>
<circle cx="751.5" cy="150.8" r="7.1" fill="#111"/>
<line x1="751.5" y1="117.5" x2="751.5" y2="122" stroke="#1a1a1a" stroke-width="0.8"/>
<line x1="749.5" y1="119.5" x2="753.5" y2="119.5" stroke="#1a1a1a" stroke-width="0.8"/>
<path d="M738.6 127 H743.4 V137.5 H745.8 L741 144.3 L736.2 137.5 H738.6Z" fill="#fff" stroke="#1a1a1a" stroke-width="1.1"/>
<g transform="rotate(52 797.4 144.2)"><rect x="790" y="131" width="14.6" height="60" rx="7.3" fill="none" stroke="#555" stroke-width="1.1" stroke-dasharray="4 2.5"/></g>
<g transform="rotate(26 797.4 144.2)"><rect x="790" y="131" width="14.6" height="60" rx="7.3" fill="none" stroke="#555" stroke-width="1.1" stroke-dasharray="4 2.5"/></g>
<circle cx="797.4" cy="144.2" r="14.1" fill="#fff" stroke="#1a1a1a" stroke-width="1.3"/>
<rect x="790" y="131" width="14.8" height="60" rx="7.4" fill="#fff" stroke="#1a1a1a" stroke-width="1.3"/>
<line x1="792.3" y1="133" x2="792.3" y2="158" stroke="#1a1a1a" stroke-width="1"/>
<line x1="802.5" y1="133" x2="802.5" y2="158" stroke="#1a1a1a" stroke-width="1"/>
<rect x="793.7" y="143.5" width="5.9" height="2.2" fill="#111"/>

<rect x="652" y="362" width="188" height="111" fill="#fff"/>
<path d="M666.5 376.1 L693.8 403.5 L682.8 406 L688.3 422.9 L681.6 425.9 L676.1 410.2 L666.3 417.8 Z" fill="#fff" stroke="#000" stroke-width="3.4" stroke-linejoin="round"/>
<g fill="none" stroke="#000" stroke-width="3.7" stroke-linecap="round" stroke-linejoin="round">
<ellipse cx="707.75" cy="383.9" rx="6.1" ry="8.45" stroke-width="4.2"/>
<path d="M729.3 392.5 V375.7 L740.3 392.5 V375.7"/>
<path d="M755.8 375.7 V392.5 H760.9"/>
<path d="M775.2 375.7 V392.5"/>
<path d="M791.1 392.5 V375.7 L802.1 392.5 V375.7"/>
<path d="M822.9 375.7 H817.6 V392.5 H822.9 M817.6 384.1 H822.6"/>
</g>
<g fill="none" stroke="#000" stroke-width="6.9" stroke-linecap="round" stroke-linejoin="round">
<path d="M700.2 424.9 L700.9 401.9 L711.5 413.2 L722.1 401.9 L722.8 424.9"/>
<path d="M729.9 424.9 L737.75 401.9 L745.6 424.9 M733 420.4 H742.5"/>
<path d="M753.5 424.9 V401.9 H760.5 C768.2 401.9 768.2 414.5 760.5 414.5 H753.5 M760.5 414.5 L766.9 424.9"/>
<path d="M775.1 401.9 V424.9 M788.6 401.9 L776.2 413.3 M780.5 410.3 L789.4 424.9"/>
<path d="M805.2 401.9 H797.6 V424.9 H805.2 M797.6 413.5 H804.5"/>
<path d="M815.1 401.9 H825.1 M820.1 401.9 V424.9"/>
</g>

</svg>
</body></html>
